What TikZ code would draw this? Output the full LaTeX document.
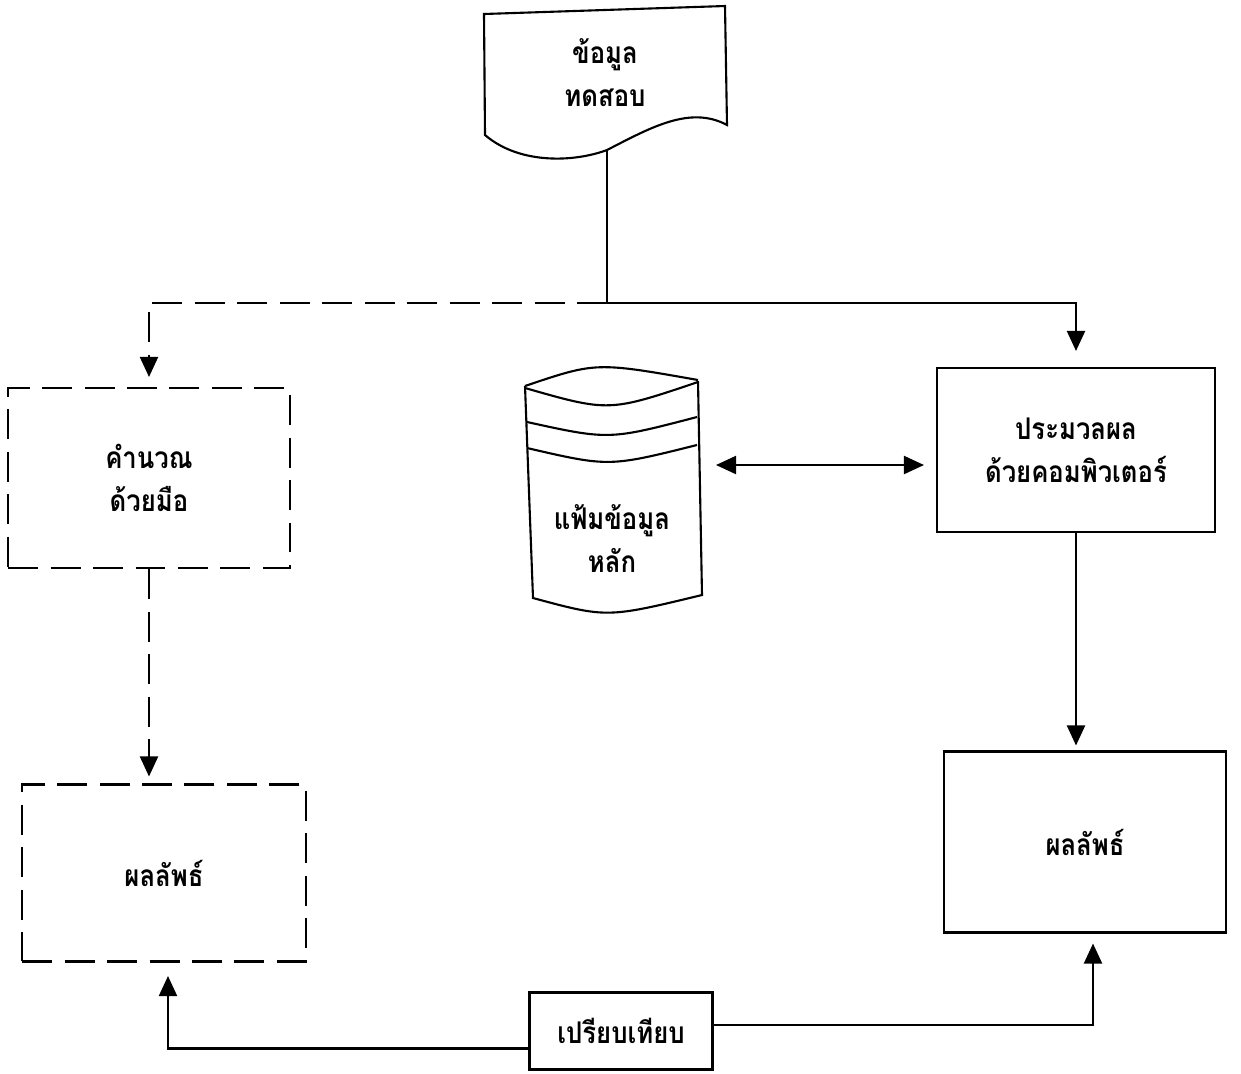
\documentclass[tikz,border=0pt]{standalone}
\usepackage{fontspec}
\newfontfamily\thaifont[Script=Thai, FakeStretch=0.86]{Loma}
\usepackage{tikz}
\usetikzlibrary{positioning, arrows.meta}

\begin{document}
\begin{tikzpicture}[x=0.02cm, y=-0.02cm, >={Triangle[length=0.4cm, width=0.36cm]}]
\tikzstyle{label}   = [align=center, font=\thaifont\bfseries\fontsize{17}{24.5}\selectfont]
\tikzstyle{process} = [label, rectangle, draw=black, line width=1.2pt, text centered]
\tikzstyle{manualbox} = [process, dash pattern=on 0.6cm off 0.25cm]
\tikzstyle{flow}    = [line width=1.2pt, black]
\useasboundingbox (0,0) rectangle (1241,1073);
\node[label] at (605,73) (testdata){ข้อมูล\\ทดสอบ};
\node[manualbox, minimum width=5.64cm, minimum height=3.6cm] at (149,478) (manual){คำนวณ\\ด้วยมือ};
\node[manualbox, minimum width=5.68cm, minimum height=3.54cm] at (164,873) (manualresult){ผลลัพธ์};
\node[label] at (612,539) (master){แฟ้มข้อมูล\\หลัก};
\node[process, minimum width=5.56cm, minimum height=3.28cm] at (1076,450) (computer){ประมวลผล\\ด้วยคอมพิวเตอร์};
\node[process, minimum width=5.64cm, minimum height=3.62cm] at (1085,842) (autoresult){ผลลัพธ์};
\node[process, minimum width=3.66cm, minimum height=1.54cm] at (621,1031) (compare){เปรียบเทียบ};
\coordinate (docbot) at (607,150);
\coordinate (split) at (607,303);
\coordinate (dbside) at (700,465);
% document shape
\draw[flow] (484,14) -- (485,135) .. controls (520,165) and (575,162) .. (docbot)
  .. controls (650,128) and (690,105) .. (727,125) -- (725,6) -- cycle;
% master file drum
\draw[flow] (525,386) .. controls (596,362) .. (698,380);
\draw[flow] (525,388) .. controls (609,412) .. (698,382);
\draw[flow] (527,422) .. controls (609,440) .. (697,417);
\draw[flow] (527,448) .. controls (609,467) .. (697,445);
\draw[flow] (525,386) -- (533,598) .. controls (607,618) .. (702,595) -- (698,381);
% connectors
\draw[flow] (docbot) -- (split);
\draw[flow, ->, dash pattern=on 0.6cm off 0.25cm, shorten >=0.2cm] (split) -| (manual.north);
\draw[flow, ->, shorten >=0.32cm] (split) -| (computer.north);
\draw[flow, <->, shorten <=0.32cm, shorten >=0.24cm] (dbside) -- (computer.west |- dbside);
\draw[flow, ->, dash pattern=on 0.6cm off 0.25cm, shorten >=0.14cm] (manual.south) -- (manual.south |- manualresult.north);
\draw[flow, ->, shorten >=0.1cm] (computer.south) -- (computer.south |- autoresult.north);
\draw[flow, ->, shorten >=0.27cm] ([yshift=-0.35cm]compare.west) -| ([xshift=0.08cm]manualresult.south);
\draw[flow, ->, shorten >=0.2cm] ([yshift=0.12cm]compare.east) -| ([xshift=0.16cm]autoresult.south);
\end{tikzpicture}
\end{document}
